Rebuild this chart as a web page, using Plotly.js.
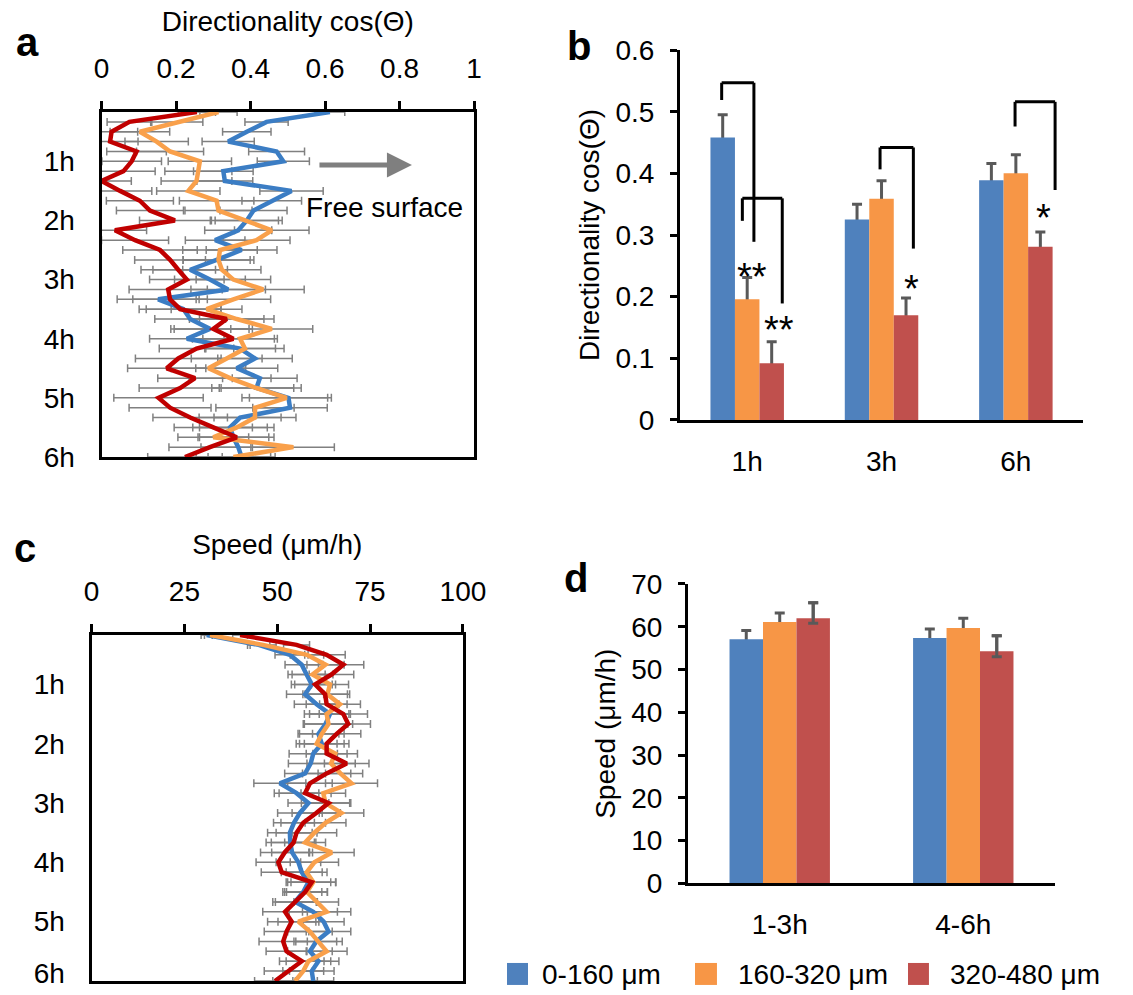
<!DOCTYPE html>
<html><head><meta charset="utf-8">
<script src="https://cdn.plot.ly/plotly-3.0.1.min.js"></script>
<style>html,body{margin:0;padding:0;background:#fff}#chart{width:1133px;height:995px}</style>
</head><body><div id="chart"></div>
<script>
// ---------- data ----------
const seriesNames = ['0-160 μm', '160-320 μm', '320-480 μm'];
const barColors = ['#4F81BD', '#F79646', '#C0504D'];
const lineColors = ['#3B7DC4', '#F9A04B', '#C00000'];

const timeMin = [0,10,20,30,40,50,60,70,80,90,100,110,120,130,140,150,160,170,180,190,200,210,220,230,240,250,260,270,280,290,300,310,320,330,340,350];
const hourLabels = ['1h','2h','3h','4h','5h','6h'];

// panel a: directionality vs time
const blueA = [0.613,0.443,0.390,0.340,0.470,0.488,0.327,0.331,0.510,0.457,0.408,0.390,0.367,0.305,0.376,0.309,0.238,0.291,0.340,0.152,0.220,0.238,0.291,0.229,0.372,0.412,0.363,0.425,0.416,0.502,0.506,0.372,0.345,0.354,0.367,0.376];
const orangeA = [0.314,0.202,0.103,0.148,0.184,0.264,0.260,0.255,0.233,0.309,0.314,0.390,0.457,0.416,0.318,0.314,0.323,0.354,0.434,0.354,0.282,0.363,0.457,0.372,0.385,0.336,0.287,0.345,0.416,0.497,0.412,0.412,0.363,0.300,0.515,0.354];
const redA = [0.256,0.075,0.027,0.023,0.094,0.081,0.059,0.0,0.050,0.103,0.130,0.197,0.036,0.090,0.157,0.184,0.206,0.229,0.179,0.184,0.211,0.336,0.300,0.354,0.255,0.206,0.175,0.251,0.211,0.153,0.184,0.238,0.300,0.363,0.291,0.224];
const blueErrA = [0.04,0.058,0.065,0.07,0.075,0.07,0.08,0.075,0.085,0.08,0.09,0.085,0.09,0.08,0.095,0.09,0.1,0.095,0.1,0.11,0.1,0.095,0.105,0.1,0.095,0.1,0.11,0.1,0.12,0.105,0.1,0.11,0.1,0.095,0.1,0.09];
const orangeErrA = [0.05,0.07,0.08,0.085,0.09,0.085,0.09,0.095,0.085,0.1,0.09,0.095,0.1,0.09,0.1,0.095,0.105,0.1,0.11,0.1,0.095,0.1,0.11,0.1,0.105,0.095,0.1,0.11,0.1,0.12,0.105,0.11,0.1,0.095,0.11,0.1];
const redErrA = [0.05,0.06,0.07,0.075,0.08,0.08,0.085,0.08,0.085,0.09,0.09,0.095,0.085,0.09,0.1,0.095,0.1,0.1,0.105,0.1,0.11,0.1,0.105,0.11,0.1,0.115,0.105,0.1,0.11,0.12,0.11,0.1,0.105,0.1,0.11,0.1];

// panel c: speed vs time
const blueC = [31,45,53.4,56.6,57.9,59.3,57.5,60.6,64.2,63,61.1,62,59.7,59,57.5,50.7,55.2,58.4,56.1,54.5,53.4,53.5,54,55.7,56.6,58.4,57,54.8,59.7,62.5,63.8,60.5,58.8,61.1,59.3,59.7];
const orangeC = [31.9,46.2,58,63,59.5,64.2,63.5,66.9,63.3,63.8,62,60.6,65.6,64.5,67,70.0,62.4,63,67.3,63,60,57.5,64.7,60,57.9,59.7,58,60.5,63.3,55.7,58.8,61,63.3,58.4,57,54.8];
const redC = [40.0,55.2,63.3,67.8,64.6,60.2,62.9,63.3,67.8,69.1,66.0,63.3,63.3,68.7,63.3,58.8,57.5,63.8,60.5,57,55.2,54.4,52,50.3,51.2,59.3,57.5,55,52.1,53.9,52.5,51.6,52.5,56.6,53,49.4];
const blueErrC = [1.5,3,4,4.5,5,5.5,5,6,5.5,6,5.5,6,6.5,6,5.5,7,6,5.5,6,5.5,6,6.5,5.5,6,5.5,6,5,6,6.5,5.5,6,5.5,6,5.5,6,5.5];
const orangeErrC = [1.5,3.5,4.5,5,5.5,5,6,5.5,6,6.5,6,5.5,6,6.5,6,7,6,6.5,6,5.5,6,5.5,6,6.5,5.5,6,5.5,6,6.5,5.5,6,6.5,5.5,6,5.5,6];
const redErrC = [2,3.5,5,5.5,6,5.5,6,5.5,6.5,6,6.5,6,5.5,6,6.5,6,7,6,6.5,6,5.5,6,6.5,6,5.5,6.5,6,5.5,6,6.5,6,6.5,5.5,6,6.5,5.5];

// panel b: directionality bars
const catsB = ['1h','3h','6h'];
const blueB = [0.458,0.325,0.389];
const orangeB = [0.196,0.359,0.400];
const redB = [0.092,0.170,0.281];
const blueErrB = [0.037,0.025,0.027];
const orangeErrB = [0.035,0.029,0.030];
const redErrB = [0.035,0.028,0.024];

// panel d: speed bars
const catsD = ['1-3h','4-6h'];
const blueD = [57.1,57.4];
const orangeD = [61.1,59.7];
const redD = [62.0,54.3];
const blueErrD = [2.0,2.1];
const orangeErrD = [2.1,2.3];
const redErrD = [3.6,3.6];
const redErrMinusD = [1.2,1.3];

// ---------- traces ----------
const FONT = 'Liberation Sans, Arial, sans-serif';
const traces = [];

function lineTraces(xs, errs, xa, ya) {
  // error bars first (under all lines)
  xs.forEach((vals, i) => {
    traces.push({type:'scatter', mode:'markers', x: vals, y: timeMin, xaxis: xa, yaxis: ya,
      marker:{size:1, color:'rgba(0,0,0,0)'}, showlegend:false, hoverinfo:'skip',
      error_x:{type:'data', array: errs[i], color:'#808080', thickness:1.5, width:4}});
  });
  xs.forEach((vals, i) => {
    traces.push({type:'scatter', mode:'lines', x: vals, y: timeMin, xaxis: xa, yaxis: ya,
      name: seriesNames[i], showlegend:false, line:{color: lineColors[i], width:4.5}});
  });
}
lineTraces([blueA, orangeA, redA], [blueErrA, orangeErrA, redErrA], 'x', 'y');
lineTraces([blueC, orangeC, redC], [blueErrC, orangeErrC, redErrC], 'x3', 'y3');

function barTraces(cats, vals, errs, errMinus, xa, ya, tag) {
  const eb = {color:'#595959', thickness:3, width:5};
  vals.forEach((v, i) => {
    traces.push({type:'bar', x: cats, y: v, xaxis: xa, yaxis: ya, offsetgroup: tag + i,
      marker:{color:'rgba(0,0,0,0)'}, showlegend:false, hoverinfo:'skip',
      error_y: Object.assign({type:'data', array: errs[i]}, eb)});
  });
  vals.forEach((v, i) => {
    const t = {type:'bar', x: cats, y: v, xaxis: xa, yaxis: ya, offsetgroup: tag + i,
      name: seriesNames[i], showlegend:false, marker:{color: barColors[i]}};
    if (errMinus[i]) {
      t.error_y = Object.assign({type:'data', symmetric:false, array: errs[i], arrayminus: errMinus[i]}, eb);
    }
    traces.push(t);
  });
}
barTraces(catsB, [blueB, orangeB, redB], [blueErrB, orangeErrB, redErrB], [null, null, null], 'x2', 'y2', 'b');
barTraces(catsD, [blueD, orangeD, redD], [blueErrD, orangeErrD, redErrD], [null, null, redErrMinusD], 'x4', 'y4', 'd');

// ---------- layout ----------
const base = {showgrid:false, zeroline:false, showline:true, linecolor:'#000', linewidth:3,
  tickfont:{size:28, color:'#000'}, fixedrange:true, ticklabeloverflow:'allow'};

const hourTickVals = [60,120,180,240,300];
const hourLabelValsA = [50,110,170,230,290,350];
const hourLabelValsC = [50,110,170,230,290,342];

const layout = {
  width:1133, height:995, margin:{l:0, r:0, t:0, b:0},
  paper_bgcolor:'#fff', plot_bgcolor:'rgba(0,0,0,0)',
  font:{family: FONT, size:28, color:'#000'},
  showlegend:false, barmode:'group', bargap:0.453, bargroupgap:0,
  // panel a
  xaxis: Object.assign({}, base, {domain:[0.0896,0.4184], anchor:'y', side:'top', range:[0,1],
    tickvals:[0,0.2,0.4,0.6,0.8,1], ticks:'outside', ticklen:8, tickwidth:3, tickcolor:'#000', mirror:true,
    ticklabelstandoff:12,
    title:{text:'Directionality cos(Θ)', font:{size:28}, standoff:14}}),
  yaxis: Object.assign({}, base, {domain:[0.5407,0.8874], anchor:'x', range:[350,0],
    tickvals: hourLabelValsA, ticktext: hourLabels, ticks:'outside', ticklen:18, tickcolor:'rgba(0,0,0,0)', mirror:true}),
  yaxis5: {overlaying:'y', anchor:'x', side:'left', range:[350,0], tickvals: hourTickVals,
    ticks:'inside', ticklen:8, tickwidth:3, tickcolor:'#000', showticklabels:false, showline:false,
    showgrid:false, zeroline:false, fixedrange:true},
  // panel b
  xaxis2: Object.assign({}, base, {domain:[0.6002,0.9559], anchor:'y2', type:'category',
    ticks:'outside', ticklen:14, tickcolor:'rgba(0,0,0,0)'}),
  yaxis2: Object.assign({}, base, {domain:[0.5779,0.9497], anchor:'x2', range:[0,0.6], dtick:0.1, tick0:0,
    ticks:'outside', ticklen:7, tickwidth:3, tickcolor:'#000', ticklabelstandoff:10,
    title:{text:'Directionality cos(Θ)', font:{size:28}, standoff:8}}),
  // panel c
  xaxis3: Object.assign({}, base, {domain:[0.0808,0.4086], anchor:'y3', side:'top', range:[0,100],
    tickvals:[0,25,50,75,100], ticks:'outside', ticklen:8, tickwidth:3, tickcolor:'#000', mirror:true,
    ticklabelstandoff:12,
    title:{text:'Speed (μm/h)', font:{size:28}, standoff:14}}),
  yaxis3: Object.assign({}, base, {domain:[0.0141,0.3618], anchor:'x3', range:[350,0],
    tickvals: hourLabelValsC, ticktext: hourLabels, ticks:'outside', ticklen:18, tickcolor:'rgba(0,0,0,0)', mirror:true}),
  yaxis6: {overlaying:'y3', anchor:'x3', side:'left', range:[350,0], tickvals: hourTickVals,
    ticks:'inside', ticklen:8, tickwidth:3, tickcolor:'#000', showticklabels:false, showline:false,
    showgrid:false, zeroline:false, fixedrange:true},
  // panel d
  xaxis4: Object.assign({}, base, {domain:[0.6072,0.9312], anchor:'y4', type:'category',
    ticks:'outside', ticklen:14, tickcolor:'rgba(0,0,0,0)'}),
  yaxis4: Object.assign({}, base, {domain:[0.1121,0.4131], anchor:'x4', range:[0,70], dtick:10, tick0:0,
    ticks:'outside', ticklen:7, tickwidth:3, tickcolor:'#000', ticklabelstandoff:10,
    title:{text:'Speed (μm/h)', font:{size:28}, standoff:8}}),
  shapes: [], annotations: []
};

// significance brackets in panel b: [xLeft, xRight, yLeft, yTop, yRight] (category index units)
const brackets = [
  [-0.19, 0.05, 0.519, 0.547, 0.289],
  [-0.036, 0.261, 0.323, 0.3595, 0.189],
  [0.989, 1.237, 0.4065, 0.442, 0.278],
  [1.994, 2.292, 0.476, 0.516, 0.373]
];
brackets.forEach(b => {
  const ln = {type:'line', xref:'x2', yref:'y2', line:{color:'#000', width:3}};
  layout.shapes.push(Object.assign({}, ln, {x0:b[0], x1:b[0], y0:b[2], y1:b[3]}));
  layout.shapes.push(Object.assign({}, ln, {x0:b[0], x1:b[1], y0:b[3], y1:b[3]}));
  layout.shapes.push(Object.assign({}, ln, {x0:b[1], x1:b[1], y0:b[3], y1:b[4]}));
});
const stars = [['**', 0.033, 0.232], ['**', 0.237, 0.146], ['*', 1.225, 0.212], ['*', 2.203, 0.327]];
stars.forEach(s => layout.annotations.push({xref:'x2', yref:'y2', x:s[1], y:s[2], text:s[0],
  showarrow:false, font:{size:38, color:'#000'}, xanchor:'center', yanchor:'middle'}));

// panel letters
[['a',0.024,0.958],['b',0.511,0.954],['c',0.022,0.449],['d',0.508,0.419]].forEach(p =>
  layout.annotations.push({xref:'paper', yref:'paper', x:p[1], y:p[2], text:'<b>'+p[0]+'</b>',
    showarrow:false, font:{size:40, color:'#000'}, xanchor:'center', yanchor:'middle'}));

// free surface arrow + label
layout.annotations.push({xref:'paper', yref:'paper', x:0.3636, y:0.8342, ax:-94, ay:0, text:'',
  showarrow:true, arrowhead:2, arrowsize:1, arrowwidth:5, arrowcolor:'#7F7F7F'});
layout.annotations.push({xref:'paper', yref:'paper', x:0.3398, y:0.791, text:'Free surface',
  showarrow:false, font:{size:28, color:'#000'}, xanchor:'center', yanchor:'middle'});

// legend (bottom right)
const legX = [[0.4475,0.466,0.4766],[0.6134,0.6328,0.6496],[0.8014,0.8199,0.8367]];
seriesNames.forEach((n, i) => {
  layout.shapes.push({type:'rect', xref:'paper', yref:'paper', x0:legX[i][0], x1:legX[i][1],
    y0:0.0101, y1:0.0322, fillcolor: barColors[i], line:{width:0}});
  layout.annotations.push({xref:'paper', yref:'paper', x:legX[i][2], y:0.0211, text:n,
    showarrow:false, font:{size:28, color:'#000'}, xanchor:'left', yanchor:'middle'});
});

Plotly.newPlot('chart', traces, layout, {displayModeBar:false, staticPlot:true});
</script></body></html>
